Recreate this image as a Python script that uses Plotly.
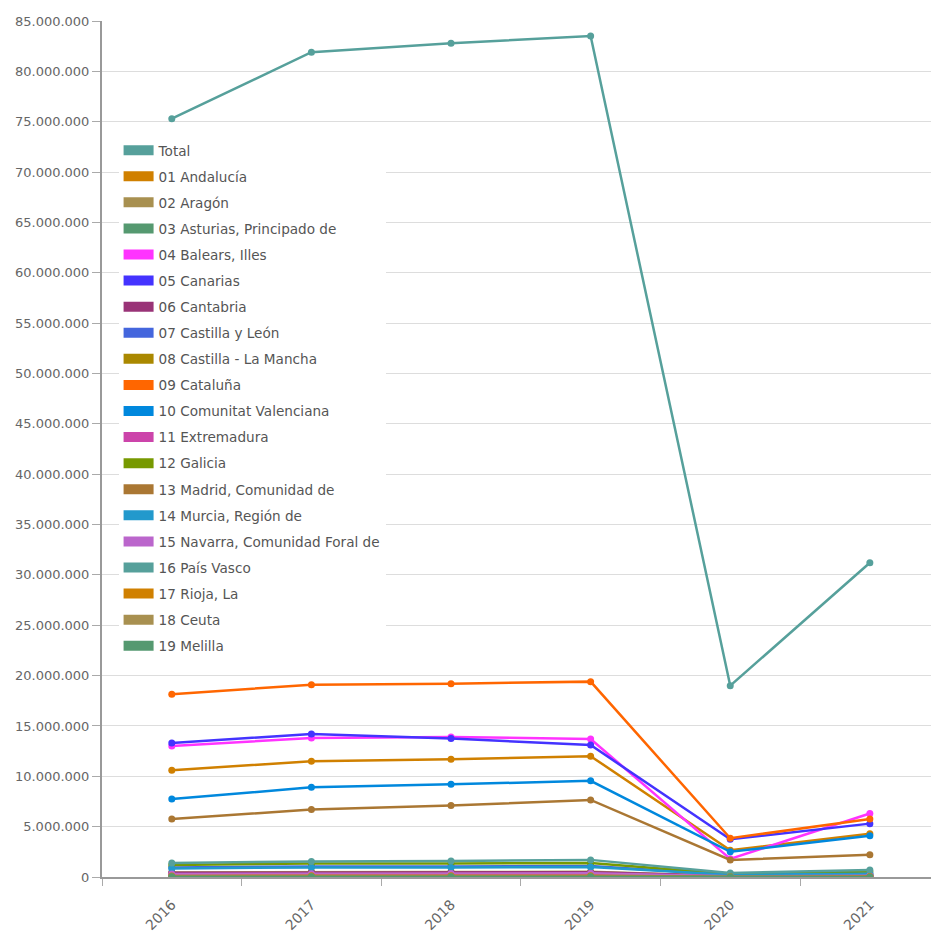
import plotly.graph_objects as go

years = ["2016", "2017", "2018", "2019", "2020", "2021"]

names = [
    "Total", "01 Andalucía", "02 Aragón", "03 Asturias, Principado de",
    "04 Balears, Illes", "05 Canarias", "06 Cantabria", "07 Castilla y León",
    "08 Castilla - La Mancha", "09 Cataluña", "10 Comunitat Valenciana",
    "11 Extremadura", "12 Galicia", "13 Madrid, Comunidad de",
    "14 Murcia, Región de", "15 Navarra, Comunidad Foral de", "16 País Vasco",
    "17 Rioja, La", "18 Ceuta", "19 Melilla",
]

total = [75300000, 81900000, 82800000, 83500000, 19000000, 31200000]
andalucia = [10600000, 11500000, 11700000, 12000000, 2650000, 4300000]
aragon = [450000, 500000, 500000, 520000, 110000, 200000]
asturias = [260000, 290000, 300000, 310000, 60000, 110000]
balears = [13000000, 13800000, 13900000, 13700000, 1800000, 6300000]
canarias = [13300000, 14200000, 13750000, 13100000, 3750000, 5300000]
cantabria = [420000, 460000, 460000, 470000, 100000, 160000]
castilla_leon = [950000, 1050000, 1050000, 1100000, 220000, 320000]
castilla_mancha = [250000, 290000, 300000, 310000, 60000, 110000]
cataluna = [18150000, 19100000, 19200000, 19400000, 3850000, 5750000]
valenciana = [7750000, 8900000, 9200000, 9550000, 2500000, 4100000]
extremadura = [250000, 280000, 300000, 300000, 50000, 100000]
galicia = [1200000, 1350000, 1350000, 1400000, 300000, 550000]
madrid = [5750000, 6700000, 7100000, 7650000, 1700000, 2200000]
murcia = [850000, 950000, 950000, 1000000, 220000, 330000]
navarra = [300000, 330000, 350000, 360000, 70000, 130000]
pais_vasco = [1400000, 1550000, 1600000, 1700000, 400000, 700000]
rioja = [110000, 120000, 125000, 130000, 30000, 50000]
ceuta = [20000, 20000, 20000, 20000, 5000, 8000]
melilla = [30000, 30000, 30000, 30000, 8000, 12000]

series = [total, andalucia, aragon, asturias, balears, canarias, cantabria,
          castilla_leon, castilla_mancha, cataluna, valenciana, extremadura,
          galicia, madrid, murcia, navarra, pais_vasco, rioja, ceuta, melilla]

colors = [
    "#56A09B", "#D08000", "#A89050", "#559970", "#FF33FF", "#4433FF",
    "#993377", "#4466DD", "#AA8800", "#FF6600", "#0088DD", "#CC44AA",
    "#779900", "#AA7733", "#2299CC", "#BB66CC", "#56A09B", "#D08000",
    "#A89050", "#559970",
]

fig = go.Figure()
for i, (nm, vals, col) in enumerate(zip(names, series, colors)):
    fig.add_trace(go.Scatter(
        x=years, y=vals, mode="lines+markers", name=nm,
        line=dict(color=col, width=2.5),
        marker=dict(color=col, size=7),
        showlegend=False, legendgroup=f"g{i}",
    ))
for i, (nm, col) in enumerate(zip(names, colors)):
    fig.add_trace(go.Scatter(
        x=[None], y=[None], mode="lines", name=nm,
        line=dict(color=col, width=10),
        showlegend=True, legendgroup=f"g{i}",
    ))

fig.update_layout(
    width=931, height=938,
    margin=dict(l=102, r=0, t=21, b=61),
    paper_bgcolor="white", plot_bgcolor="white",
    separators=",.",
    font=dict(family="DejaVu Sans, sans-serif", size=13, color="#666"),
    legend=dict(
        x=0.02, xanchor="left", y=0.867, yanchor="top",
        bgcolor="white", borderwidth=0,
        font=dict(size=13.6, color="#555"),
        tracegroupgap=5.4, itemwidth=30,
    ),
    xaxis=dict(
        type="category", range=[-0.5, 5.438],
        showgrid=False, tickson="boundaries",
        ticks="outside", ticklen=7, tickcolor="#aaa",
        showline=True, linecolor="#999", linewidth=2,
        tickangle=-45, tickfont=dict(size=14, color="#666"),
        ticklabelstandoff=12,
    ),
    yaxis=dict(
        range=[0, 85000000], dtick=5000000, tickformat=",.0f",
        showgrid=True, gridcolor="#ddd", gridwidth=1,
        ticks="outside", ticklen=8, tickcolor="#aaa",
        showline=True, linecolor="#999", linewidth=2,
        zeroline=False,
        tickfont=dict(size=13, color="#666"),
    ),
)

fig.write_html("out.html")
